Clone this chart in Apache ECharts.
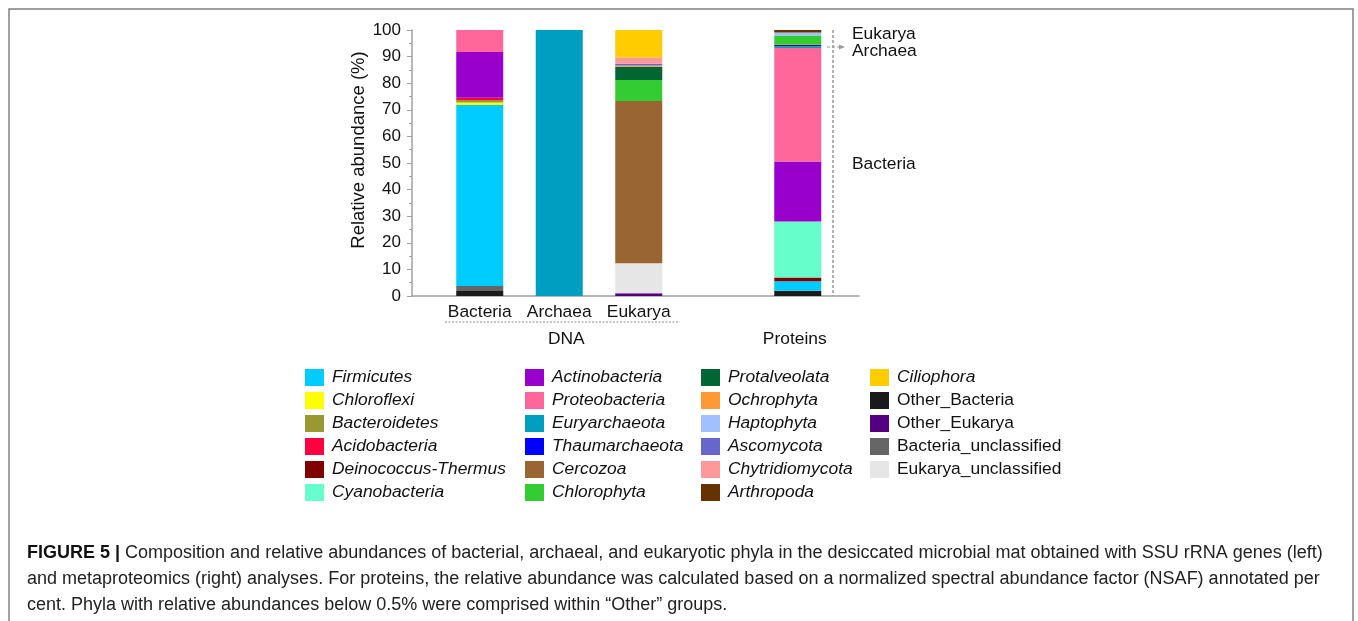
<!DOCTYPE html>
<html>
<head>
<meta charset="utf-8">
<script src="https://cdn.jsdelivr.net/npm/echarts@6/dist/echarts.min.js"></script>
<style>
  html, body { margin: 0; padding: 0; background: #fff; }
  #chart { width: 1358px; height: 621px; }
</style>
</head>
<body>
<div id="chart"></div>
<script>
// bars on the x axis (the empty slot makes the gap before Proteins)
var categories = ["Bacteria", "Archaea", "Eukarya", "", "Proteins"];
var groupLabels = ["", "DNA", "", "", "Proteins"];

// phyla in stacking order, bottom to top
var phyla = [
  "Other_Bacteria", "Bacteria_unclassified", "Firmicutes", "Chloroflexi", "Bacteroidetes",
  "Acidobacteria", "Deinococcus-Thermus", "Cyanobacteria", "Actinobacteria", "Proteobacteria",
  "Euryarchaeota", "Thaumarchaeota", "Other_Eukarya", "Eukarya_unclassified", "Cercozoa",
  "Chlorophyta", "Protalveolata", "Ochrophyta", "Haptophyta", "Ascomycota",
  "Chytridiomycota", "Arthropoda", "Ciliophora"
];
var colors = [
  "#1a1a1a", "#666666", "#00ccff", "#ffff00", "#999933",
  "#ff0040", "#800000", "#66ffcc", "#9900cc", "#ff6699",
  "#009fc2", "#0000ff", "#550080", "#e6e6e6", "#996633",
  "#33cc33", "#006633", "#ff9933", "#a0c0ff", "#6666cc",
  "#ff9999", "#663300", "#ffcc00"
];

// relative abundance (%) per phylum, same order as phyla
var dnaBacteria = [1.9, 1.9, 68.0, 0.9, 1.0, 0.8, 0, 0, 17.2, 8.3, 0, 0, 0, 0, 0, 0, 0, 0, 0, 0, 0, 0, 0];
var dnaArchaea  = [0, 0, 0, 0, 0, 0, 0, 0, 0, 0, 100, 0, 0, 0, 0, 0, 0, 0, 0, 0, 0, 0, 0];
var dnaEukarya  = [0, 0, 0, 0, 0, 0, 0, 0, 0, 0, 0, 0, 1.0, 11.3, 61.0, 7.9, 5.0, 0.5, 0, 0.6, 2.4, 0, 10.3];
var proteins    = [2.0, 0, 3.5, 0, 0, 0, 1.5, 21.0, 22.6, 42.6, 0.7, 0, 0.6, 0, 0, 3.4, 0, 0, 1.2, 0, 0, 0.9, 0];

// legend columns as printed
var legendCols = [
  ["Firmicutes", "Chloroflexi", "Bacteroidetes", "Acidobacteria", "Deinococcus-Thermus", "Cyanobacteria"],
  ["Actinobacteria", "Proteobacteria", "Euryarchaeota", "Thaumarchaeota", "Cercozoa", "Chlorophyta"],
  ["Protalveolata", "Ochrophyta", "Haptophyta", "Ascomycota", "Chytridiomycota", "Arthropoda"],
  ["Ciliophora", "Other_Bacteria", "Other_Eukarya", "Bacteria_unclassified", "Eukarya_unclassified"]
];
var legendLeft = [305, 525, 701, 870];

var FONT = "'Liberation Sans', Arial, sans-serif";
var FS = 17.4;

var series = phyla.map(function (name, i) {
  return {
    name: name,
    type: "bar",
    stack: "total",
    xAxisIndex: 0,
    yAxisIndex: 0,
    barWidth: 47,
    itemStyle: { color: colors[i] },
    emphasis: { disabled: true },
    data: [dnaBacteria[i], dnaArchaea[i], dnaEukarya[i], null, proteins[i]]
  };
});

var legends = legendCols.map(function (col, c) {
  return {
    orient: "vertical",
    left: legendLeft[c],
    top: 369,
    padding: 0,
    itemWidth: 19,
    itemHeight: 17,
    itemGap: 6,
    icon: "rect",
    selectedMode: false,
    textStyle: { fontFamily: FONT, fontSize: FS, color: "#111", padding: [0, 0, 0, 3] },
    data: col.map(function (n) {
      var plain = n.indexOf("_") >= 0;
      return { name: n, textStyle: { fontStyle: plain ? "normal" : "italic" } };
    })
  };
});

var myChart = echarts.init(document.getElementById("chart"));
var option = {
  animation: false,
  textStyle: { fontFamily: FONT },
  legend: legends,
  grid: [
    { left: 440, width: 397.5, top: 30, bottom: 325, outerBoundsMode: "none" },
    { left: 412, width: 447, top: 30, bottom: 325, outerBoundsMode: "none" }
  ],
  xAxis: [
    {
      type: "category",
      gridIndex: 0,
      position: "bottom",
      data: categories,
      axisLine: { show: false },
      axisTick: { show: false },
      axisLabel: { fontSize: FS, color: "#111", margin: 8, interval: 0,
        formatter: function (v) { return v === "Proteins" ? "" : v; } }
    },
    {
      type: "category",
      gridIndex: 0,
      position: "bottom",
      data: groupLabels,
      offset: 27,
      axisLine: { show: false },
      axisTick: { show: false },
      axisLabel: { fontSize: FS, color: "#111", margin: 8, interval: 0,
        formatter: function (v) {
          if (v === "DNA") return "{d|DNA}";
          if (v === "Proteins") return "{p|Proteins}";
          return v;
        },
        rich: {
          d: { fontSize: FS, color: "#111", padding: [0, 0, 0, 14] },
          p: { fontSize: FS, color: "#111", padding: [0, 6, 0, 0] }
        } }
    },
    {
      type: "value",
      gridIndex: 1,
      position: "bottom",
      axisLine: { show: true, lineStyle: { color: "#a0a0a0", width: 1.5 } },
      axisTick: { show: false },
      axisLabel: { show: false },
      splitLine: { show: false }
    }
  ],
  yAxis: [
    {
      type: "value",
      gridIndex: 0,
      min: 0,
      max: 100,
      interval: 10,
      offset: 28,
      name: "Relative abundance (%)",
      nameLocation: "middle",
      nameGap: 42,
      nameTextStyle: { fontSize: 18.5, color: "#111", padding: [0, 0, 0, 26] },
      axisLine: { show: true, lineStyle: { color: "#a0a0a0", width: 1.5 } },
      axisTick: { show: true, length: 5, lineStyle: { color: "#a0a0a0" } },
      minorTick: { show: true, splitNumber: 2, length: 3, lineStyle: { color: "#a0a0a0" } },
      axisLabel: { fontSize: 17, color: "#111", margin: 11 },
      splitLine: { show: false }
    },
    {
      type: "value",
      gridIndex: 1,
      min: 0,
      max: 100,
      show: false
    }
  ],
  series: series,
  graphic: [
    // figure frame
    { type: "rect", shape: { x: 9, y: 9, width: 1344, height: 640 },
      style: { fill: "none", stroke: "#808080", lineWidth: 1.5 }, silent: true },
    // DNA group underline
    { type: "line", shape: { x1: 445, y1: 322, x2: 680, y2: 322 },
      style: { stroke: "#888", lineWidth: 1, lineDash: [2, 1.5] } },
    // bracket next to proteins bar
    { type: "line", shape: { x1: 833, y1: 30, x2: 833, y2: 296 },
      style: { stroke: "#999", lineWidth: 1.5, lineDash: [3, 2] } },
    { type: "line", shape: { x1: 827, y1: 47, x2: 841, y2: 47 },
      style: { stroke: "#999", lineWidth: 1.2, lineDash: [3, 2] } },
    { type: "polygon", shape: { points: [[845, 47], [839, 44.5], [839, 49.5]] },
      style: { fill: "#999" } },
    { type: "text", left: 852, top: 26, style: { text: "Eukarya", font: FS + "px " + FONT, fill: "#111" } },
    { type: "text", left: 852, top: 43, style: { text: "Archaea", font: FS + "px " + FONT, fill: "#111" } },
    { type: "text", left: 852, top: 156, style: { text: "Bacteria", font: FS + "px " + FONT, fill: "#111" } },
    // caption
    {
      type: "text",
      left: 27,
      top: 540,
      style: {
        text: "{b|FIGURE 5 | }Composition and relative abundances of bacterial, archaeal, and eukaryotic phyla in the desiccated microbial mat obtained with SSU rRNA genes (left)\n" +
              "and metaproteomics (right) analyses. For proteins, the relative abundance was calculated based on a normalized spectral abundance factor (NSAF) annotated per\n" +
              "cent. Phyla with relative abundances below 0.5% were comprised within \u201cOther\u201d groups.",
        font: "18px " + FONT,
        fill: "#222",
        lineHeight: 26,
        rich: {
          b: { font: "bold 18px " + FONT, fill: "#111", lineHeight: 26 }
        }
      }
    }
  ]
};
myChart.setOption(option);
</script>
</body>
</html>
